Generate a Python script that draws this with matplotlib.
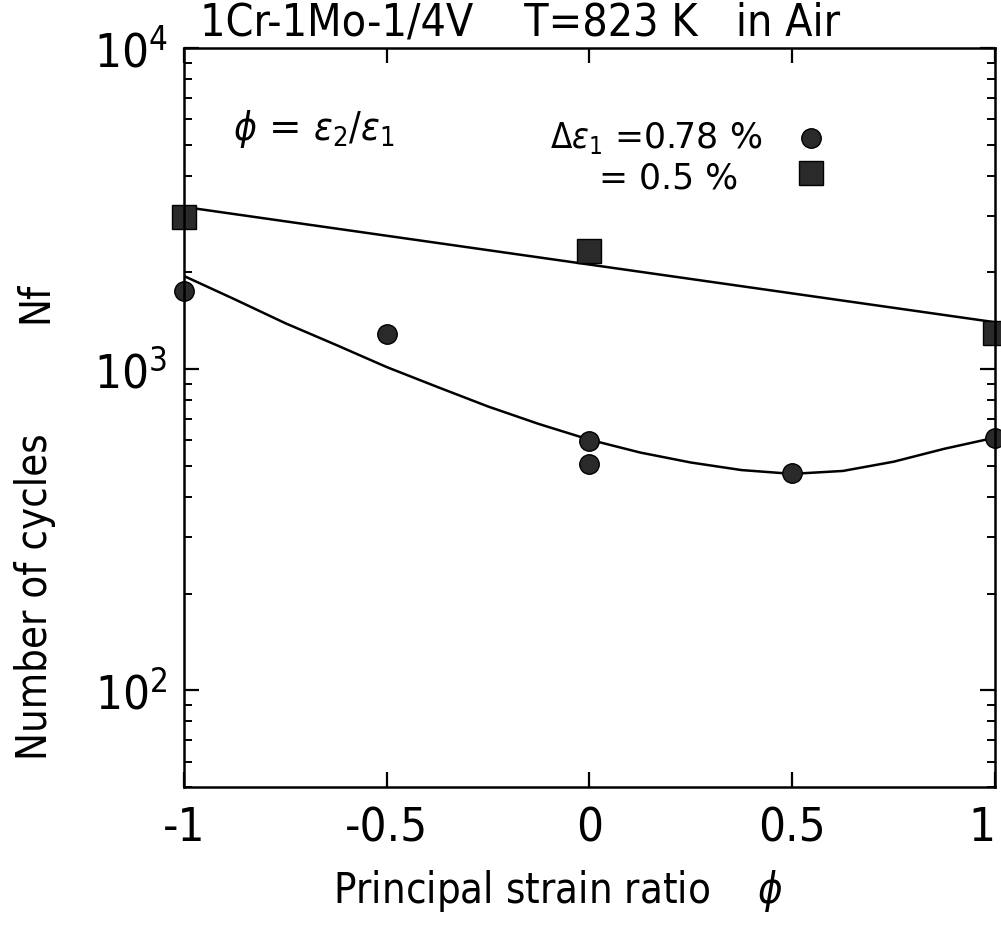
import numpy as np
import matplotlib
matplotlib.use("Agg")
import matplotlib.pyplot as plt
from matplotlib.ticker import FixedLocator, LogLocator, NullFormatter

plt.rcParams['font.family'] = ['DejaVu Sans']
plt.rcParams['font.stretch'] = 'condensed'
plt.rcParams['mathtext.fontset'] = 'custom'
plt.rcParams['mathtext.rm'] = 'DejaVu Sans:stretch=condensed'

# data
phi_078 = [-1.0, -0.5, 0.0, 0.0, 0.5, 1.0]
nf_078 = [1750, 1285, 597, 506, 475, 610]

phi_05 = [-1.0, 0.0, 1.0]
nf_05 = [2970, 2330, 1300]

# fitted curves
fit_phi_078 = [-1.0, -0.875, -0.75, -0.625, -0.5, -0.375, -0.25, -0.125, 0.0,
               0.125, 0.25, 0.375, 0.5, 0.625, 0.75, 0.875, 1.0]
fit_nf_078 = [1950, 1650, 1390, 1190, 1015, 880, 765, 675, 603,
              550, 512, 485, 472, 482, 515, 565, 612]
fit_phi_05 = [-1.0, 1.0]
fit_nf_05 = [3200, 1400]

xticks = [-1, -0.5, 0, 0.5, 1]
xticklabels = ['-1', '-0.5', '0', '0.5', '1']
yticks = [1e2, 1e3, 1e4]
yticklabels = [r'$\mathregular{10^{2}}$', r'$\mathregular{10^{3}}$', r'$\mathregular{10^{4}}$']

fig = plt.figure(figsize=(10.01, 9.32), dpi=100)
ax = fig.add_axes([0.1838, 0.1556, 0.8102, 0.7929])

ax.plot(fit_phi_078, fit_nf_078, color='black', lw=1.8)
ax.plot(fit_phi_05, fit_nf_05, color='black', lw=1.8)
ax.plot(phi_078, nf_078, 'o', ms=14, mfc='#2a2a2a', mec='black', mew=1.0, clip_on=False)
ax.plot(phi_05, nf_05, 's', ms=17, mfc='#2a2a2a', mec='black', mew=1.0, clip_on=False)

ax.set_yscale('log')
ax.set_xlim(-1, 1)
ax.set_ylim(50, 1e4)

ax.xaxis.set_major_locator(FixedLocator(xticks))
ax.set_xticklabels(xticklabels)
ax.yaxis.set_major_locator(FixedLocator(yticks))
ax.set_yticklabels(yticklabels)
ax.yaxis.set_minor_locator(LogLocator(base=10, subs=np.arange(2, 10)))
ax.yaxis.set_minor_formatter(NullFormatter())

ax.tick_params(axis='both', which='major', direction='in', top=True, right=True,
               length=11, width=1.6, labelsize=34)
ax.tick_params(axis='x', which='major', pad=14)
ax.tick_params(axis='y', which='major', pad=12)
ax.tick_params(axis='y', which='minor', direction='in', left=True, right=True,
               length=6, width=1.4)
for s in ax.spines.values():
    s.set_linewidth(1.8)
# last x label sits right at the figure edge
ax.get_xticklabels()[-1].set_horizontalalignment('right')

# annotations
fig.text(0.20, 0.962, '1Cr-1Mo-1/4V    T=823 K   in Air', fontsize=32,
         ha='left', va='baseline')
ax.text(0.06, 0.89, r'$\phi$ = $\varepsilon_2/\varepsilon_1$', transform=ax.transAxes,
        fontsize=28, va='center', stretch='normal')
ax.text(0.713, 0.878, r'$\Delta\varepsilon_1$ =0.78 %', transform=ax.transAxes,
        fontsize=25, ha='right', va='center', stretch='normal')
ax.text(0.683, 0.824, '= 0.5 %', transform=ax.transAxes,
        fontsize=25, ha='right', va='center', stretch='normal')
ax.plot([0.773], [0.878], 'o', ms=14, mfc='#2a2a2a', mec='black', transform=ax.transAxes)
ax.plot([0.773], [0.831], 's', ms=17, mfc='#2a2a2a', mec='black', transform=ax.transAxes)

fig.text(0.333, 0.031, r'Principal strain ratio    $\phi$', fontsize=30,
         ha='left', va='baseline')
fig.text(0.035, 0.36, 'Number of cycles', rotation=90, fontsize=30,
         ha='center', va='center')
fig.text(0.035, 0.676, 'Nf', rotation=90, fontsize=30, ha='center', va='center')

fig.savefig('out.png', dpi=100)
